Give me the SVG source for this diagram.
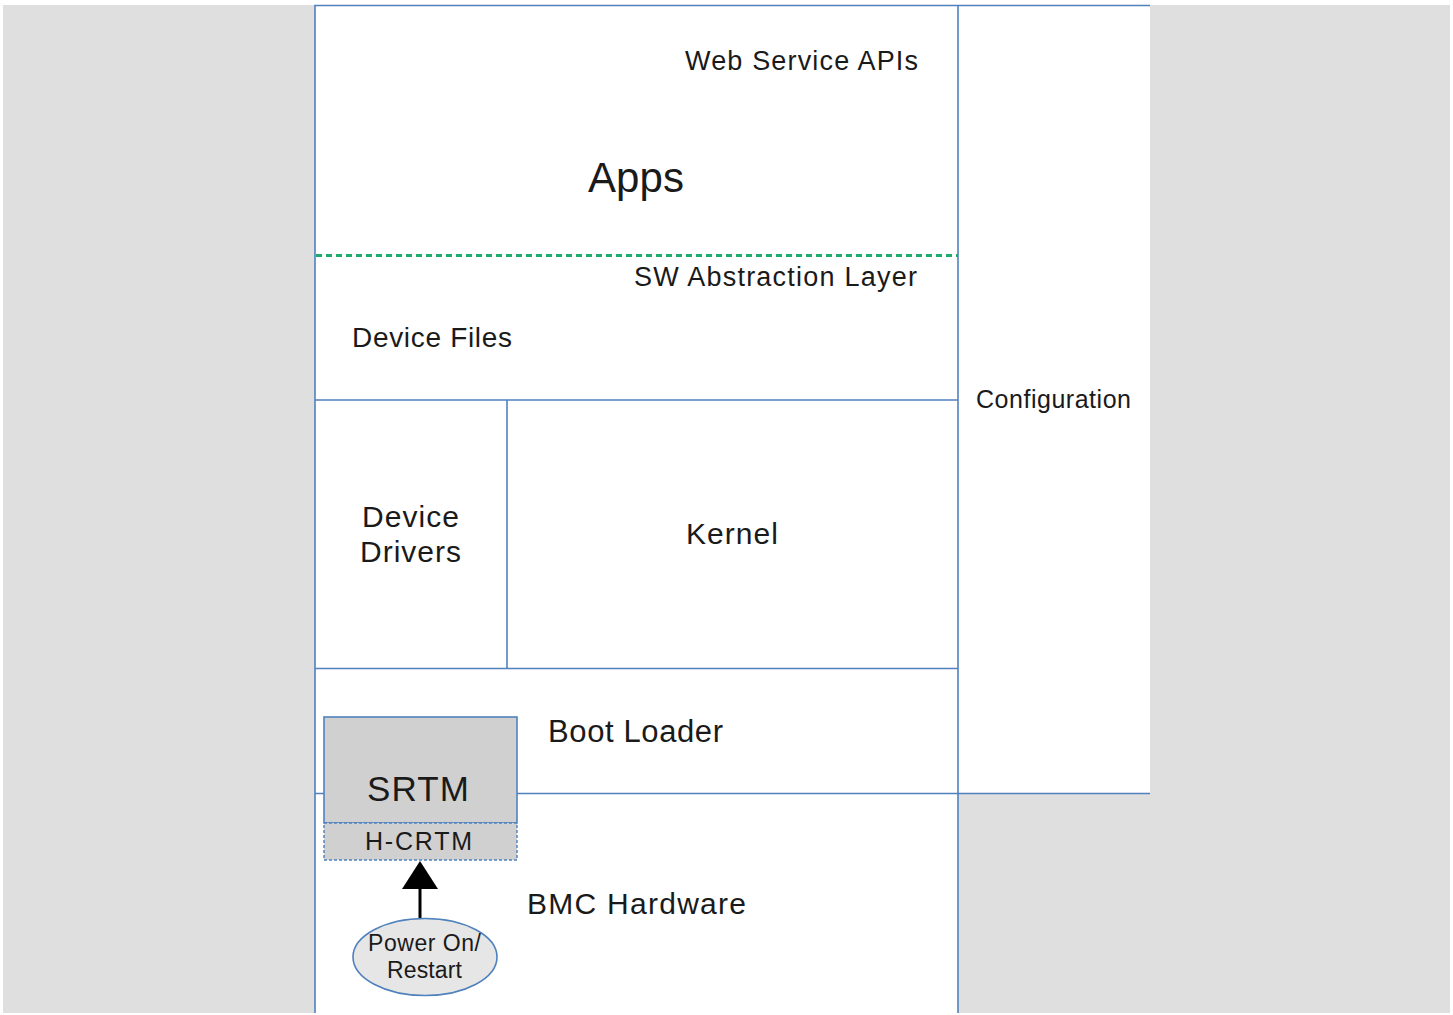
<svg xmlns="http://www.w3.org/2000/svg" width="1453" height="1015" viewBox="0 0 1453 1015">
<style>
.ln{stroke:#4f81bd;stroke-width:1.6;fill:none}
.t{font-family:"Liberation Sans",Arial,sans-serif;fill:#1a1a1a}
</style>
<rect x="0" y="0" width="1453" height="1015" fill="#ffffff"/>
<rect x="3" y="5" width="1447" height="1008" fill="#dfdfdf"/>
<g id="layers">
<rect x="315" y="5" width="643" height="1008" fill="#ffffff"/>
<rect x="958" y="5" width="192" height="788" fill="#ffffff"/>
</g>
<g id="connectors">
<path class="ln" d="M315,1013 V5.5 H1150"/>
<path class="ln" d="M958,5 V1013"/>
<path class="ln" d="M315,400 H958"/>
<path class="ln" d="M507,400 V668"/>
<path class="ln" d="M315,668.5 H958"/>
<path class="ln" d="M315,793.5 H1150"/>
<path d="M316,255.5 H958" stroke="#1cab6c" stroke-width="3" stroke-dasharray="6,4" fill="none"/>
<line x1="420" y1="918" x2="420" y2="886" stroke="#000" stroke-width="3"/>
<polygon points="420,861 402,889 438,889" fill="#000"/>
</g>
<g id="apps">
<text class="t" x="685" y="70" font-size="27" textLength="233" lengthAdjust="spacing">Web Service APIs</text>
<text class="t" x="588" y="192" font-size="42" textLength="96" lengthAdjust="spacing">Apps</text>
</g>
<g id="sw-abstraction">
<text class="t" x="634" y="286" font-size="27" textLength="283" lengthAdjust="spacing">SW Abstraction Layer</text>
<text class="t" x="352" y="347" font-size="28" textLength="160" lengthAdjust="spacing">Device Files</text>
</g>
<g id="device-drivers">
<text class="t" x="362" y="527" font-size="30" textLength="97" lengthAdjust="spacing">Device</text>
<text class="t" x="360" y="562" font-size="30" textLength="101" lengthAdjust="spacing">Drivers</text>
</g>
<g id="kernel">
<text class="t" x="686" y="544" font-size="30" textLength="92" lengthAdjust="spacing">Kernel</text>
</g>
<g id="configuration">
<text class="t" x="976" y="408" font-size="25" textLength="155" lengthAdjust="spacing">Configuration</text>
</g>
<g id="boot-loader">
<text class="t" x="548" y="742" font-size="31" textLength="175" lengthAdjust="spacing">Boot Loader</text>
</g>
<g id="bmc-hardware">
<text class="t" x="527" y="914" font-size="30" textLength="219" lengthAdjust="spacing">BMC Hardware</text>
</g>
<g id="srtm">
<rect x="324" y="717" width="193" height="106" fill="#d0d0d0" stroke="#4f81bd" stroke-width="1.6"/>
<text class="t" x="367" y="801" font-size="35" textLength="102" lengthAdjust="spacing">SRTM</text>
</g>
<g id="h-crtm">
<rect x="324" y="823" width="193" height="37" fill="#d0d0d0" stroke="#4f81bd" stroke-width="1.4" stroke-dasharray="3,2"/>
<text class="t" x="365" y="850" font-size="25" textLength="107" lengthAdjust="spacing">H-CRTM</text>
</g>
<g id="power-on">
<ellipse cx="425" cy="957" rx="72" ry="38.5" fill="#e6e6e6" stroke="#4f81bd" stroke-width="1.6"/>
<text class="t" x="368" y="951" font-size="23" textLength="113" lengthAdjust="spacing">Power On/</text>
<text class="t" x="387" y="978" font-size="23" textLength="75" lengthAdjust="spacing">Restart</text>
</g>
</svg>
